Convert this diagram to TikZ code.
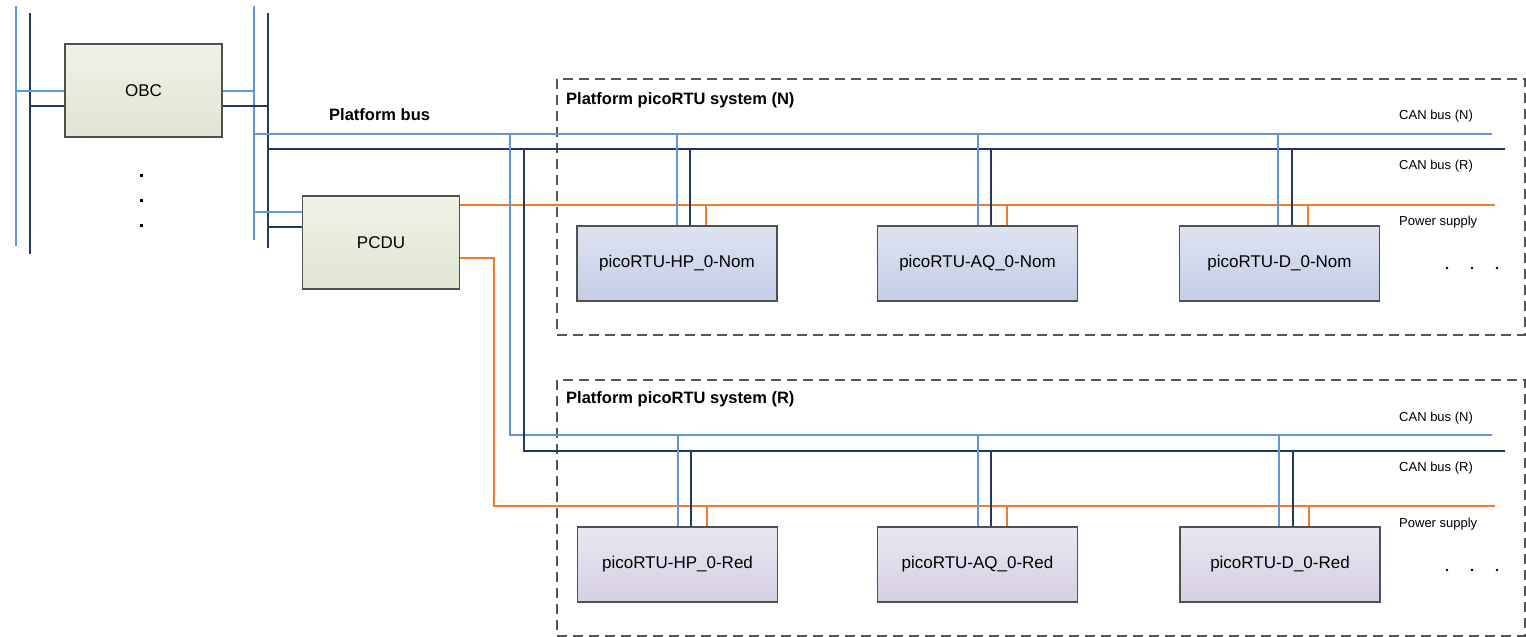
\documentclass[tikz,border=0pt]{standalone}
\usepackage{fontspec}
\setmainfont{Liberation Sans}
\definecolor{busN}{RGB}{98,150,220}
\definecolor{busR}{RGB}{31,56,100}
\definecolor{pwr}{RGB}{237,125,49}
\definecolor{boxline}{RGB}{80,80,80}
\definecolor{grpline}{RGB}{85,85,85}
\definecolor{gTop}{RGB}{240,242,230}
\definecolor{gBot}{RGB}{224,229,210}
\definecolor{nTop}{RGB}{222,227,241}
\definecolor{nBot}{RGB}{196,205,230}
\definecolor{rTop}{RGB}{233,231,242}
\definecolor{rBot}{RGB}{214,207,228}
\begin{document}
\begin{tikzpicture}[x=1pt,y=-1pt,
  lb/.style={draw=busN,line width=1.5pt},
  db/.style={draw=busR,line width=1.5pt},
  pw/.style={draw=pwr,line width=1.5pt},
  unitbox/.style={draw=boxline,line width=1.8pt,inner sep=0pt,font=\fontsize{17}{20}\selectfont},
  ctrlbox/.style={unitbox,minimum width=157pt,minimum height=93pt,top color=gTop,bottom color=gBot},
  nombox/.style={unitbox,minimum width=200pt,minimum height=75pt,top color=nTop,bottom color=nBot},
  redbox/.style={unitbox,minimum width=200pt,minimum height=75pt,top color=rTop,bottom color=rBot},
  grp/.style={draw=grpline,line width=1.2pt,dash pattern=on 10pt off 6pt},
  title/.style={anchor=west,font=\fontsize{16.5}{20}\selectfont\bfseries,inner sep=0pt},
  small/.style={anchor=west,font=\fontsize{13}{16}\selectfont,inner sep=0pt},
  dot/.style={fill=black,inner sep=0pt,minimum size=3pt},
  sdot/.style={fill=black,circle,inner sep=0pt,minimum size=2.6pt}
]
\useasboundingbox (0,0) rectangle (1526,637);

% groups
\draw[grp] (557,79) rectangle (1525,335);
\draw[grp] (557,380) rectangle (1525,636);
\node[title] (tN) at (566,100) {Platform picoRTU system (N)};
\node[title] (tR) at (566,399) {Platform picoRTU system (R)};
\node[title] (pb) at (329,115) {Platform bus};

% boxes
\node[ctrlbox] (obc) at (143.5,90.5) {OBC};
\node[ctrlbox] (pcdu) at (381,242.5) {PCDU};
\node[nombox] (hpn) at (677,263.5) {picoRTU-HP\_0-Nom};
\node[nombox] (aqn) at (977.5,263.5) {picoRTU-AQ\_0-Nom};
\node[nombox] (dn) at (1279.5,263.5) {picoRTU-D\_0-Nom};
\node[redbox] (hpr) at (677.5,564.5) {picoRTU-HP\_0-Red};
\node[redbox] (aqr) at (977.5,564.5) {picoRTU-AQ\_0-Red};
\node[redbox] (dr) at (1280,564.5) {picoRTU-D\_0-Red};

% left bus
\coordinate (lbT) at (16,6);   \coordinate (lbB) at (16,246);
\coordinate (ldT) at (30,13);  \coordinate (ldB) at (30,254);
\draw[lb] (lbT) -- (lbB);
\draw[db] (ldT) -- (ldB);
\draw[lb] (lbT |- 0,91) -- (obc.west |- 0,91);
\draw[db] (ldT |- 0,106) -- (obc.west |- 0,106);

% platform bus verticals
\coordinate (pbT) at (254,6);  \coordinate (pbB) at (254,240);
\coordinate (pdT) at (268,13); \coordinate (pdB) at (268,248);
\draw[lb] (pbT) -- (pbB);
\draw[db] (pdT) -- (pdB);
\draw[lb] (obc.east |- 0,91) -- (pbT |- 0,91);
\draw[db] (obc.east |- 0,106) -- (pdT |- 0,106);
\draw[lb] (pbT |- 0,212) -- (pcdu.west |- 0,212);
\draw[db] (pdT |- 0,227) -- (pcdu.west |- 0,227);

% main buses (N system)
\coordinate (nE) at (1492,134);
\coordinate (rE) at (1505,149);
\coordinate (pE) at (1495,205);
\draw[lb] (pbT |- nE) -- (nE);
\draw[db] (pdT |- rE) -- (rE);
\draw[pw] (pcdu.east |- pE) -- (pE);

% links to R system
\coordinate (nE2) at (1492,435);
\coordinate (rE2) at (1505,451);
\coordinate (pE2) at (1495,506);
\draw[lb] (510,134) -- (510,435) -- (nE2);
\draw[db] (524,149) -- (524,451) -- (rE2);
\draw[pw] (pcdu.east |- 0,258) -- (494,258) -- (494,506) -- (pE2);

% drops N
\foreach \b/\xa/\xb/\xc in {hpn/677/690/706, aqn/978/991/1007, dn/1278/1292/1308}{
  \draw[lb] (\xa,134) -- (\b.north -| \xa,0);
  \draw[db] (\xb,149) -- (\b.north -| \xb,0);
  \draw[pw] (\xc,205) -- (\b.north -| \xc,0);
}
% drops R
\foreach \b/\xa/\xb/\xc in {hpr/678/691/707, aqr/978/991/1007, dr/1279/1293/1309}{
  \draw[lb] (\xa,435) -- (\b.north -| \xa,0);
  \draw[db] (\xb,451) -- (\b.north -| \xb,0);
  \draw[pw] (\xc,506) -- (\b.north -| \xc,0);
}

% labels
\node[small] (cnN) at (1399,116) {CAN bus (N)};
\node[small] (crN) at (1399,166) {CAN bus (R)};
\node[small] (psN) at (1399,222) {Power supply};
\node[small] (cnR) at (1399,418) {CAN bus (N)};
\node[small] (crR) at (1399,468) {CAN bus (R)};
\node[small] (psR) at (1399,524) {Power supply};

% dots
\foreach \y [count=\i] in {175,200,225}{\node[dot] (vd\i) at (141,\y) {};}
\foreach \x [count=\i] in {1447,1472,1497}{
  \node[sdot] (nd\i) at (\x,268) {};
  \node[sdot] (rd\i) at (\x,570) {};
}
\end{tikzpicture}
\end{document}
